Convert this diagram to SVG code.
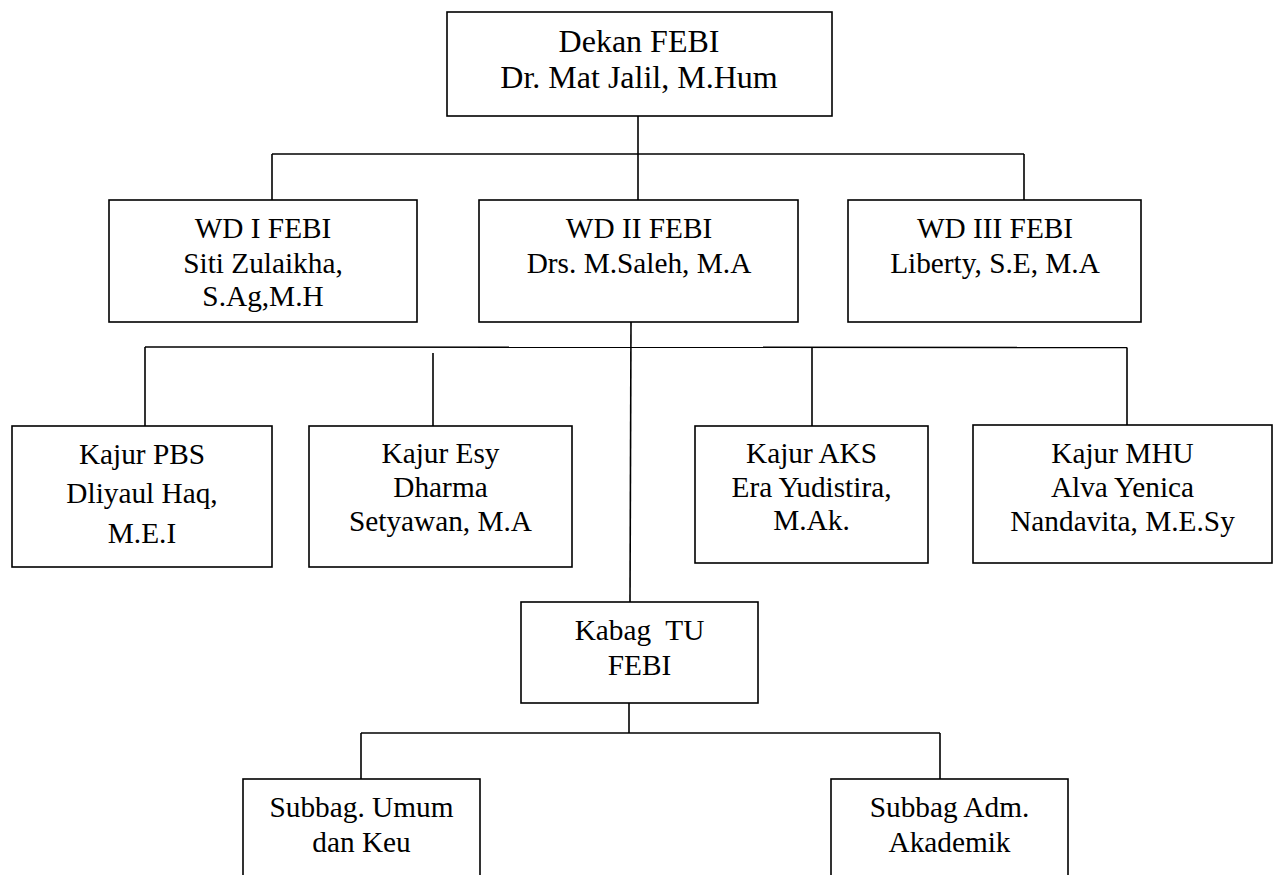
<svg xmlns="http://www.w3.org/2000/svg" width="1277" height="875" viewBox="0 0 1277 875">
<style>
  .box { fill: #ffffff; stroke: #000000; stroke-width: 1.6; }
  .ln { stroke: #000000; stroke-width: 1.6; fill: none; }
  text { font-family: "Liberation Serif", "Times New Roman", serif; fill: #000000; text-anchor: middle; white-space: pre; }
  .big { font-size: 32px; }
  .t { font-size: 29.3px; }
</style>
<rect width="1277" height="875" fill="#ffffff"/>
<g id="connectors">
  <line class="ln" x1="638" y1="116" x2="638" y2="200"/>
  <line class="ln" x1="272" y1="154" x2="1024" y2="154"/>
  <line class="ln" x1="272" y1="154" x2="272" y2="200"/>
  <line class="ln" x1="1024" y1="154" x2="1024" y2="200"/>
  <line class="ln" x1="631" y1="322" x2="630" y2="602"/>
  <line class="ln" x1="145" y1="347" x2="1127" y2="347.5"/>
  <line class="ln" x1="145" y1="347" x2="145" y2="426"/>
  <line class="ln" x1="433" y1="353" x2="433" y2="426"/>
  <line class="ln" x1="812" y1="347" x2="812" y2="426"/>
  <line class="ln" x1="1127" y1="347.5" x2="1127" y2="425"/>
  <line class="ln" x1="629" y1="703" x2="629" y2="733"/>
  <line class="ln" x1="361" y1="733" x2="940" y2="733"/>
  <line class="ln" x1="361" y1="733" x2="361" y2="779"/>
  <line class="ln" x1="940" y1="733" x2="940" y2="779"/>
</g>
<g id="dekan">
  <rect class="box" x="447" y="12" width="385" height="104"/>
  <text class="big" x="639" y="52">Dekan FEBI</text>
  <text class="big" x="639" y="88">Dr. Mat Jalil, M.Hum</text>
</g>
<g id="wd1">
  <rect class="box" x="109" y="200" width="308" height="122"/>
  <text class="t" x="263" y="238">WD I FEBI</text>
  <text class="t" x="263" y="273">Siti Zulaikha,</text>
  <text class="t" x="263" y="306">S.Ag,M.H</text>
</g>
<g id="wd2">
  <rect class="box" x="479" y="200" width="319" height="122"/>
  <text class="t" x="639" y="238">WD II FEBI</text>
  <text class="t" x="639" y="273">Drs. M.Saleh, M.A</text>
</g>
<g id="wd3">
  <rect class="box" x="848" y="200" width="293" height="122"/>
  <text class="t" x="995" y="238">WD III FEBI</text>
  <text class="t" x="995" y="273">Liberty, S.E, M.A</text>
</g>
<g id="kajur-pbs">
  <rect class="box" x="12" y="426" width="260" height="141"/>
  <text class="t" x="142" y="464">Kajur PBS</text>
  <text class="t" x="142" y="503">Dliyaul Haq,</text>
  <text class="t" x="142" y="543">M.E.I</text>
</g>
<g id="kajur-esy">
  <rect class="box" x="309" y="426" width="263" height="141"/>
  <text class="t" x="440.5" y="463">Kajur Esy</text>
  <text class="t" x="440.5" y="497">Dharma</text>
  <text class="t" x="440.5" y="531">Setyawan, M.A</text>
</g>
<g id="kajur-aks">
  <rect class="box" x="695" y="426" width="233" height="137"/>
  <text class="t" x="811.5" y="463">Kajur AKS</text>
  <text class="t" x="811.5" y="497">Era Yudistira,</text>
  <text class="t" x="811.5" y="530">M.Ak.</text>
</g>
<g id="kajur-mhu">
  <rect class="box" x="973" y="425" width="299" height="138"/>
  <text class="t" x="1122.5" y="463">Kajur MHU</text>
  <text class="t" x="1122.5" y="497">Alva Yenica</text>
  <text class="t" x="1122.5" y="531">Nandavita, M.E.Sy</text>
</g>
<g id="kabag-tu">
  <rect class="box" x="521" y="602" width="237" height="101"/>
  <text class="t" x="639.5" y="640">Kabag  TU</text>
  <text class="t" x="639.5" y="675">FEBI</text>
</g>
<g id="subbag-umum">
  <rect class="box" x="243" y="779" width="237" height="110"/>
  <text class="t" x="361.5" y="817">Subbag. Umum</text>
  <text class="t" x="361.5" y="852">dan Keu</text>
</g>
<g id="subbag-adm">
  <rect class="box" x="831" y="779" width="237" height="110"/>
  <text class="t" x="949.5" y="817">Subbag Adm.</text>
  <text class="t" x="949.5" y="852">Akademik</text>
</g>
</svg>
